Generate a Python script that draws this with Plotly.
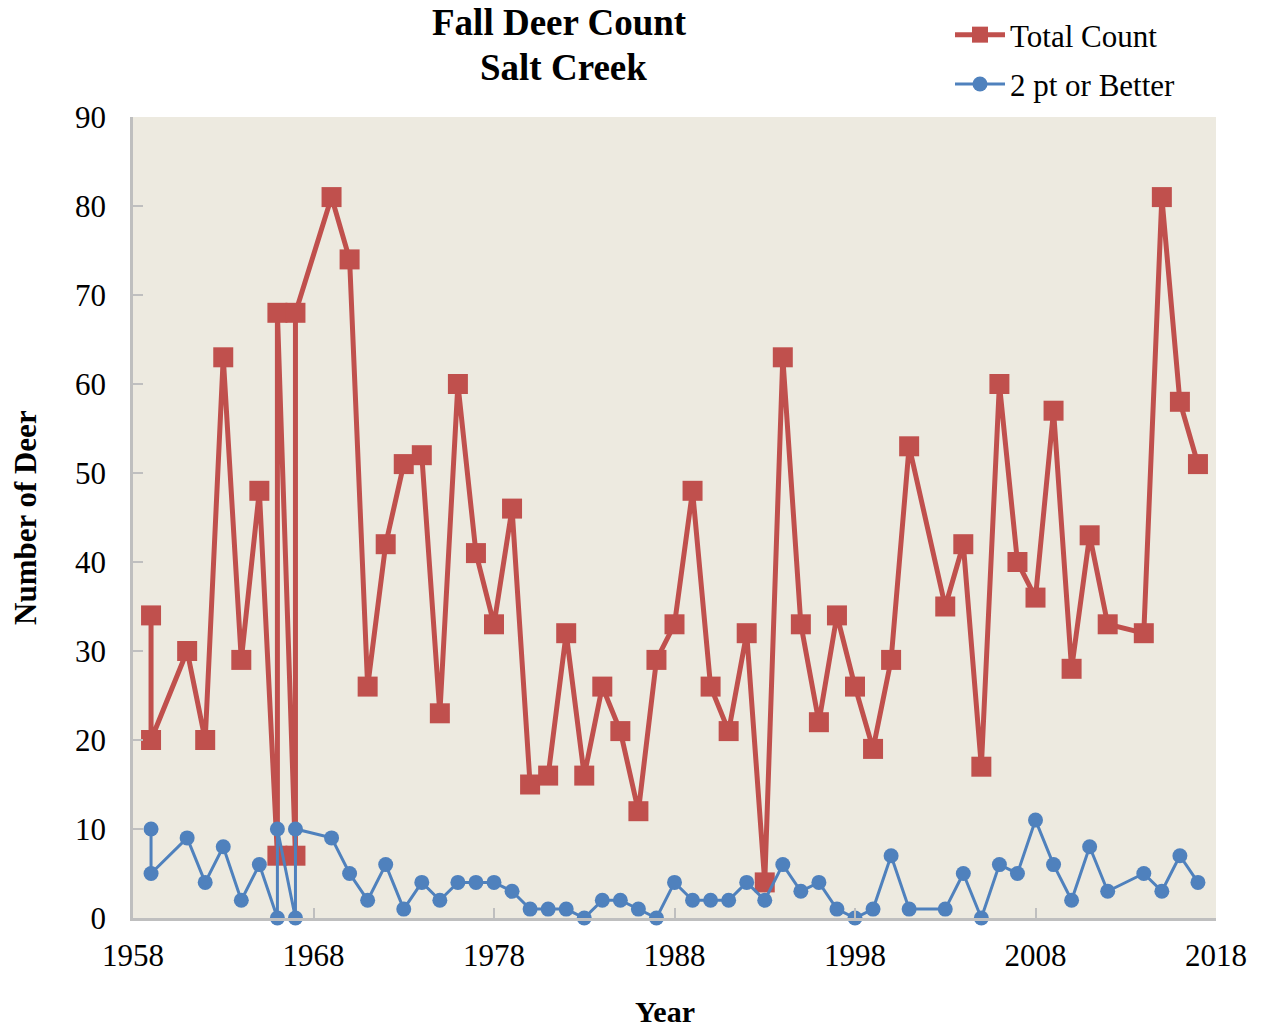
import plotly.graph_objects as go

years = [1959, 1959, 1961, 1962, 1963, 1964, 1965, 1966, 1966, 1967, 1967, 1969, 1970,
         1971, 1972, 1973, 1974, 1975, 1976, 1977, 1978, 1979, 1980, 1981, 1982, 1983,
         1984, 1985, 1986, 1987, 1988, 1989, 1990, 1991, 1992, 1993, 1994, 1995, 1996,
         1997, 1998, 1999, 2000, 2001, 2003, 2004, 2005, 2006, 2007, 2008, 2009, 2010,
         2011, 2012, 2014, 2015, 2016, 2017]
total_count = [34, 20, 30, 20, 63, 29, 48, 7, 68, 7, 68, 81, 74,
               26, 42, 51, 52, 23, 60, 41, 33, 46, 15, 16, 32, 16,
               26, 21, 12, 29, 33, 48, 26, 21, 32, 4, 63, 33, 22,
               34, 26, 19, 29, 53, 35, 42, 17, 60, 40, 36, 57, 28,
               43, 33, 32, 81, 58, 51]
two_pt = [10, 5, 9, 4, 8, 2, 6, 0, 10, 0, 10, 9, 5,
          2, 6, 1, 4, 2, 4, 4, 4, 3, 1, 1, 1, 0,
          2, 2, 1, 0, 4, 2, 2, 2, 4, 2, 6, 3, 4,
          1, 0, 1, 7, 1, 1, 5, 0, 6, 5, 11, 6, 2,
          8, 3, 5, 3, 7, 4]

RED = "#C0504D"
BLUE = "#4F81BD"
FONT = "Liberation Serif"

# page offsets (body margin of 8px is compensated in margins)
L, R, T, B = 125, 45, 109, 111
W, H = 1253, 1021
PW, PH = W - L - R, H - T - B


def px(page_x):
    return (page_x - 133) / PW


def py(page_y):
    return (918 - page_y) / PH


fig = go.Figure()
fig.add_trace(go.Scatter(
    x=years, y=total_count, mode="lines+markers", name="Total Count",
    line=dict(color=RED, width=5),
    marker=dict(symbol="square", size=20, color=RED),
    cliponaxis=False, legendgroup="a"))
fig.add_trace(go.Scatter(
    x=years, y=two_pt, mode="lines+markers", name="2 pt or Better",
    line=dict(color=BLUE, width=3),
    marker=dict(symbol="circle", size=15, color=BLUE),
    cliponaxis=False, legendgroup="b"))

axis_common = dict(
    showgrid=False, zeroline=False, showline=True, linecolor="#BFBFBF", linewidth=2.5,
    ticks="inside", ticklen=10, tickcolor="#BFBFBF", tickwidth=1.5,
    tickfont=dict(family=FONT, size=31, color="black"),
)

annotations = [
    dict(text="<b>Fall Deer Count</b>", x=px(559), y=py(23), xref="paper", yref="paper",
         xanchor="center", yanchor="middle", showarrow=False,
         font=dict(family=FONT, size=37, color="black")),
    dict(text="<b>Salt Creek</b>", x=px(563), y=py(67), xref="paper", yref="paper",
         xanchor="center", yanchor="middle", showarrow=False,
         font=dict(family=FONT, size=37, color="black")),
    dict(text="<b>Year</b>", x=px(665), y=py(1011), xref="paper", yref="paper",
         xanchor="center", yanchor="middle", showarrow=False,
         font=dict(family=FONT, size=30, color="black")),
    dict(text="<b>Number of Deer</b>", x=px(25), y=py(518), xref="paper", yref="paper",
         xanchor="center", yanchor="middle", showarrow=False, textangle=-90,
         font=dict(family=FONT, size=31, color="black")),
]

fig.update_layout(
    width=W, height=H,
    margin=dict(l=L, r=R, t=T, b=B, autoexpand=False),
    paper_bgcolor="white", plot_bgcolor="#EDEAE0",
    font=dict(family=FONT, color="black"),
    xaxis=dict(range=[1958, 2018], dtick=10, tick0=1958, ticklabelstandoff=8, **axis_common),
    yaxis=dict(range=[0, 90], dtick=10, ticklabelstandoff=18, **axis_common),
    annotations=annotations,
    legend=dict(x=px(950), y=py(8), xanchor="left", yanchor="top",
                font=dict(family=FONT, size=31, color="black"), bgcolor="rgba(0,0,0,0)",
                traceorder="grouped", tracegroupgap=6, itemwidth=50),
    showlegend=True,
)

fig.write_html("out.html")
